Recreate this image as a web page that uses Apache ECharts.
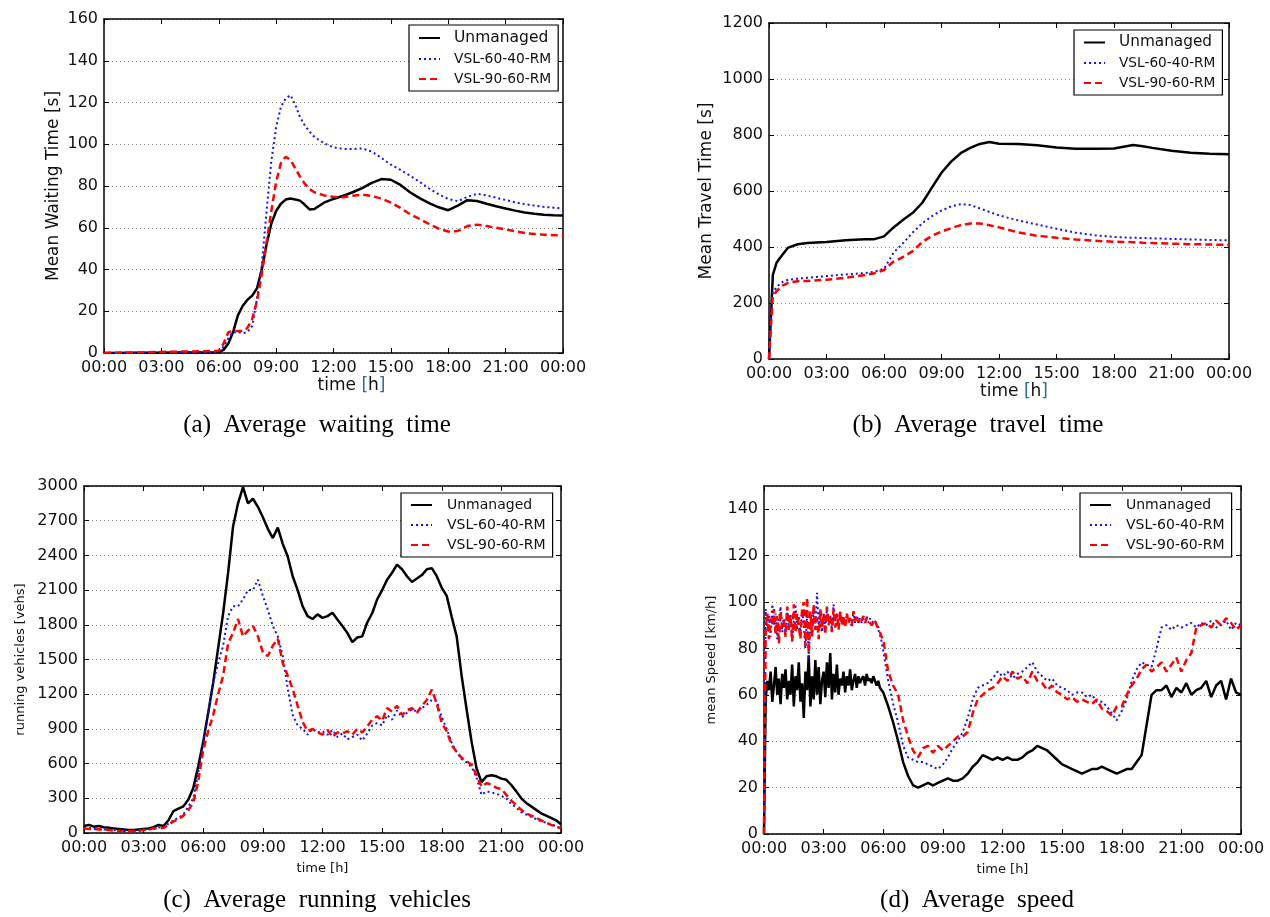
<!DOCTYPE html>
<html>
<head>
<meta charset="utf-8">
<title>VSL ramp metering results</title>
<script src="https://cdn.jsdelivr.net/npm/echarts@6/dist/echarts.min.js"></script>
<style>
  html, body { margin: 0; padding: 0; background: #fff; }
  #main { width: 1270px; height: 917px; }
</style>
</head>
<body>
<div id="main"></div>
<script>
const seriesNames = ["Unmanaged", "VSL-60-40-RM", "VSL-90-60-RM"];

// (a) mean waiting time [s]
const waitHours = [0, 6, 6.25, 6.5, 6.75, 7, 7.25, 7.5, 7.75, 8, 8.25, 8.5, 8.75, 9, 9.25, 9.5, 9.75, 10, 10.25, 10.5, 10.75, 11,
  11.5, 12, 12.5, 13, 13.5, 14, 14.5, 15, 15.5, 16, 16.5, 17, 17.5, 18, 18.5, 19, 19.5, 20, 20.5, 21, 21.5, 22, 22.5, 23, 23.5, 24];
const waitUnmanaged = [0, 0.3, 1.5, 4.5, 10, 18, 22.5, 25.5, 27.5, 31, 40, 52, 62, 68, 71.5, 73.5, 74, 73.5, 73, 71, 68.8, 69,
  72, 73.8, 75.3, 77, 79, 81.5, 83.3, 83, 80.5, 77, 74.2, 71.8, 69.8, 68.4, 70.6, 73.2, 72.8, 71.5, 70.3, 69.2, 68.2, 67.3, 66.7, 66.2, 66, 65.9];
const waitVsl6040 = [0, 0.5, 3, 7, 10, 10, 9.5, 10, 13, 26, 42, 68, 92, 108, 118, 122, 123.5, 119, 113, 109, 106, 103.5,
  100.5, 98.5, 97.8, 97.7, 98, 96.5, 93.5, 90.2, 87.7, 85, 82, 78.8, 76, 73.8, 72.7, 74.8, 76.3, 75.5, 74.4, 73.3, 72.2, 71.3, 70.6, 70, 69.6, 69.2];
const waitVsl9060 = [0, 1, 4.5, 10, 10.5, 10.5, 10.5, 12, 16.3, 25, 38, 53, 68, 82, 91, 94, 92.5, 88.5, 84.5, 81, 78.5, 77,
  75.5, 74.8, 74.6, 75.3, 75.9, 75.2, 74, 72, 69.5, 66.5, 64.2, 61.8, 59.6, 58.2, 58.5, 60.8, 61.5, 60.8, 60, 59.2, 58.3, 57.5, 57, 56.7, 56.4, 56.3];

// (b) mean travel time [s]
const travelHours = [0, 0.1, 0.2, 0.4, 0.7, 1, 1.5, 2, 3, 4, 5, 5.5, 6, 6.5, 7, 7.5, 8, 8.5, 9, 9.5, 10, 10.5, 11, 11.5, 12,
  13, 14, 15, 16, 17, 18, 18.5, 19, 19.5, 20, 21, 22, 23, 24];
const travelUnmanaged = [0, 150, 300, 345, 372, 398, 410, 414, 418, 424, 428, 428, 438, 470, 497, 522, 558, 612, 665, 705, 735, 754, 768, 775, 769,
  768, 763, 755, 751, 751, 752, 758, 764, 760, 754, 744, 737, 733, 731];
const travelVsl6040 = [0, 150, 236, 258, 275, 283, 287, 290, 296, 302, 307, 312, 322, 380, 414, 452, 485, 510, 530, 545, 553, 550, 538, 525, 513,
  495, 480, 465, 451, 442, 436, 434, 433, 432, 431, 429, 427, 425, 424];
const travelVsl9060 = [0, 120, 224, 243, 262, 272, 278, 279, 283, 290, 300, 306, 318, 348, 365, 385, 418, 440, 455, 467, 478, 484, 484, 478, 470,
  452, 440, 433, 427, 422, 419, 418, 417, 415, 414, 412, 410, 409, 407];

// (c) running vehicles [vehs], one value every quarter hour 00:00 .. 24:00
const quarterHours = Array.from({ length: 97 }, (_, i) => i / 4);
const runUnmanaged = [
  60, 70, 55, 60, 50, 45, 40, 35, 30, 25, 25, 30, 35, 40, 50, 70,
  60, 110, 190, 210, 230, 290, 390, 580, 790, 1040, 1300, 1600, 1900, 2250, 2650, 2850,
  2990, 2850, 2890, 2820, 2730, 2630, 2550, 2640, 2500, 2390, 2220, 2100, 1960, 1875, 1850, 1890,
  1860, 1875, 1905, 1845, 1790, 1730, 1650, 1690, 1700, 1820, 1900, 2020, 2100, 2190, 2250, 2320,
  2280, 2220, 2170, 2200, 2230, 2280, 2290, 2220, 2120, 2050, 1870, 1700, 1360, 1070, 790, 560,
  440, 490, 500, 490, 470, 460, 415, 360, 300, 260, 230, 200, 170, 150, 130, 110, 75];
const runVsl6040 = [
  40, 45, 35, 35, 30, 30, 25, 20, 15, 20, 15, 20, 25, 30, 35, 50,
  45, 80, 110, 130, 160, 230, 300, 520, 790, 1045, 1300, 1470, 1620, 1875, 1960, 1960,
  2020, 2100, 2100, 2190, 2050, 1930, 1790, 1700, 1530, 1250, 1020, 930, 900, 850, 900, 870,
  880, 850, 890, 830, 860, 810, 830, 850, 800, 860, 930, 950, 930, 1020, 980, 1060,
  1000, 1040, 1070, 1050, 1080, 1110, 1150, 1140, 1000, 900, 780, 700, 640, 610, 570, 480,
  330, 360, 350, 340, 320, 300, 250, 220, 180, 160, 140, 120, 100, 90, 75, 60, 40];
const runVsl9060 = [
  40, 35, 35, 30, 30, 25, 20, 20, 15, 15, 20, 20, 25, 30, 40, 40,
  45, 70, 100, 120, 150, 200, 260, 450, 720, 880, 1020, 1200, 1360, 1640, 1730, 1850,
  1700, 1750, 1790, 1700, 1560, 1530, 1620, 1680, 1470, 1360, 1245, 1100, 960, 880, 900, 870,
  850, 890, 830, 870, 860, 880, 850, 900, 870, 920, 980, 1010, 970, 1080, 1050, 1100,
  1020, 1060, 1080, 1040, 1100, 1150, 1240, 1120, 950, 880, 760, 700, 650, 620, 590, 500,
  400, 430, 420, 390, 380, 330, 280, 240, 200, 170, 150, 130, 110, 90, 70, 55, 40];

// (d) mean speed [km/h]: every 5 min from 00:00 to 05:55, then every quarter hour 06:00 .. 24:00
const speedHours = Array.from({ length: 72 }, (_, i) => i / 12).concat(Array.from({ length: 73 }, (_, i) => 6 + i / 4));
const speedUnmanaged = [
  0, 58, 66, 62, 70, 57, 64, 72, 60, 67, 56, 69,
  63, 71, 58, 66, 60, 73, 55, 68, 62, 74, 57, 65,
  50, 70, 62, 77, 55, 68, 58, 75, 60, 72, 56, 66,
  70, 59, 74, 63, 78, 58, 69, 61, 73, 60, 67, 64,
  70, 61, 68, 64, 71, 62, 66, 69, 63, 68, 65, 67,
  68, 64, 69, 66, 67, 65, 68, 66, 64, 66, 63, 62,
  61, 55, 48, 40, 31, 25, 21, 20,
  21, 22, 21, 22, 23, 24, 23, 23, 24, 26, 29, 31, 34, 33, 32, 33,
  32, 33, 32, 32, 33, 35, 36, 38, 37, 36, 34, 32, 30, 29, 28, 27,
  26, 27, 28, 28, 29, 28, 27, 26, 27, 28, 28, 31, 34, 47, 60, 62,
  62, 64, 59, 63, 61, 65, 60, 62, 63, 66, 59, 64, 66, 58, 67, 61, 60];
const speedVsl6040 = [
  0, 97, 88, 94, 85, 99, 90, 95, 84, 92, 98, 87,
  93, 86, 97, 89, 95, 83, 92, 99, 88, 94, 86, 96,
  90, 80, 95, 75, 92, 86, 98, 88, 104, 90, 96, 87,
  95, 89, 97, 91, 94, 88, 99, 92, 95, 90, 96, 91,
  94, 90, 95, 92, 93, 89, 96, 91, 94, 92, 93, 91,
  93, 92, 94, 91, 93, 92, 91, 92, 90, 88, 86, 83,
  79, 66, 56, 48, 38, 33, 32, 31,
  31, 30, 29, 28, 30, 33, 37, 40, 44, 50, 58, 63, 64, 65, 67, 70,
  68, 70, 67, 69, 70, 72, 74, 70, 68, 66, 67, 64, 63, 62, 60, 61,
  61, 59, 60, 57, 57, 55, 52, 49, 53, 58, 66, 71, 74, 73, 72, 80,
  89, 90, 88, 90, 89, 90, 91, 89, 91, 90, 92, 89, 90, 92, 88, 91, 90];
const speedVsl9060 = [
  0, 88, 95, 84, 93, 90, 97, 86, 94, 82, 96, 89,
  92, 85, 98, 88, 94, 83, 99, 87, 95, 90, 84, 97,
  100, 81, 102, 78, 96, 85, 99, 88, 93, 84, 97, 89,
  95, 86, 98, 90, 94, 87, 97, 89, 95, 88, 96, 90,
  94, 89, 95, 91, 93, 90, 96, 92, 94, 91, 93, 92,
  94, 91, 93, 92, 92, 90, 91, 92, 90, 89, 87, 85,
  84, 70, 64, 60, 49, 42, 36, 33,
  37, 38, 35, 38, 36, 38, 40, 42, 42, 44, 52, 58, 60, 62, 63, 65,
  68, 66, 70, 67, 68, 65, 70, 66, 65, 62, 64, 61, 60, 58, 59, 57,
  58, 57, 56, 58, 54, 53, 51, 55, 55, 60, 64, 67, 71, 73, 70, 72,
  74, 70, 73, 76, 70, 75, 78, 89, 90, 91, 89, 92, 90, 93, 91, 88, 90];

const FONT = "DejaVu Sans";

function pair(hours, values) {
  return values.map((v, i) => [hours[i], v]);
}

const panels = [
  {
    box: { left: 104, top: 19, width: 459, height: 334 }, yMax: 160, yStep: 20,
    yName: "Mean Waiting Time [s]", yGap: 42, yNameSize: 17, xName: "time {br|[}h{br|]}", xGap: 22, xNameSize: 17, xShift: 36,
    legend: { left: 409, top: 25 }, bigSize: 15.5, smallSize: 13.8, textPad: 9, pad: [5, 7, 5, 9],
    caption: "(a)  Average  waiting  time", cx: 317, cy: 425,
    data: [pair(waitHours, waitUnmanaged), pair(waitHours, waitVsl6040), pair(waitHours, waitVsl9060)]
  },
  {
    box: { left: 769, top: 23, width: 460, height: 336 }, yMax: 1200, yStep: 200,
    yName: "Mean Travel Time [s]", yGap: 54, yNameSize: 17, xName: "time {br|[}h{br|]}", xGap: 22, xNameSize: 17, xShift: 30,
    legend: { left: 1074, top: 30 }, bigSize: 15.3, smallSize: 13.7, textPad: 9, pad: [5, 7, 5, 9],
    caption: "(b)  Average  travel  time", cx: 978, cy: 425,
    data: [pair(travelHours, travelUnmanaged), pair(travelHours, travelVsl6040), pair(travelHours, travelVsl9060)]
  },
  {
    box: { left: 84, top: 486, width: 477, height: 347 }, yMax: 3000, yStep: 300,
    yName: "running vehicles [vehs]", yGap: 57, yNameSize: 13, xName: "time [h]", xGap: 29, xNameSize: 13, xShift: 0,
    legend: { left: 401, top: 493 }, bigSize: 14, smallSize: 14, textPad: 10, pad: [5, 7, 5, 9],
    caption: "(c)  Average  running  vehicles", cx: 317, cy: 900,
    data: [pair(quarterHours, runUnmanaged), pair(quarterHours, runVsl6040), pair(quarterHours, runVsl9060)]
  },
  {
    box: { left: 764, top: 486, width: 477, height: 348 }, yMax: 150, yStep: 20,
    yName: "mean Speed [km/h]", yGap: 46, yNameSize: 13, xName: "time [h]", xGap: 29, xNameSize: 13, xShift: 0,
    legend: { left: 1080, top: 493 }, bigSize: 14, smallSize: 14, textPad: 10, pad: [5, 7, 5, 9],
    caption: "(d)  Average  speed", cx: 977, cy: 900,
    data: [pair(speedHours, speedUnmanaged), pair(speedHours, speedVsl6040), pair(speedHours, speedVsl9060)]
  }
];

const lineLook = [
  { color: "#000000", type: "solid", width: 2.5 },
  { color: "#1010ff", type: [2, 3], width: 2 },
  { color: "#ff0000", type: [7, 4], width: 2.5 }
];

const hourLabel = v => String(v % 24).padStart(2, "0") + ":00";

const grid = [], xAxis = [], yAxis = [], series = [], legend = [], graphic = [];

panels.forEach((p, i) => {
  grid.push(Object.assign({ containLabel: false }, p.box));
  const tick = { show: true, inside: true, length: 5, lineStyle: { color: "#000", width: 1 } };
  const line = { show: true, onZero: false, lineStyle: { color: "#000", width: 1.5 } };
  // bottom (labelled) and top (ticks only) time axes
  xAxis.push({
    type: "value", gridIndex: i, min: 0, max: 24, interval: 3, position: "bottom",
    axisLine: line, axisTick: tick, splitLine: { show: false },
    axisLabel: { formatter: hourLabel, fontFamily: FONT, fontSize: 16, color: "#111", margin: 7 },
    name: p.xName, nameLocation: "middle", nameGap: p.xGap,
    nameTextStyle: {
      fontFamily: FONT, fontSize: p.xNameSize, color: "#111", padding: [0, 0, 0, p.xShift],
      rich: { br: { color: "#2c6c8c", fontSize: p.xNameSize, fontFamily: FONT } }
    }
  });
  xAxis.push({
    type: "value", gridIndex: i, min: 0, max: 24, interval: 3, position: "top",
    axisLine: line, axisTick: tick, axisLabel: { show: false }, splitLine: { show: false }
  });
  yAxis.push({
    type: "value", gridIndex: i, min: 0, max: p.yMax, interval: p.yStep, position: "left",
    axisLine: line, axisTick: tick,
    splitLine: { show: true, lineStyle: { color: "#888", type: [1, 3], width: 1 } },
    axisLabel: { formatter: v => String(v), fontFamily: FONT, fontSize: 16, color: "#111", margin: 6, showMaxLabel: p.yMax % p.yStep === 0 },
    name: p.yName, nameLocation: "middle", nameGap: p.yGap,
    nameTextStyle: { fontFamily: FONT, fontSize: p.yNameSize, color: "#111" }
  });
  yAxis.push({
    type: "value", gridIndex: i, min: 0, max: p.yMax, interval: p.yStep, position: "right",
    axisLine: line, axisTick: tick, axisLabel: { show: false }, splitLine: { show: false }
  });
  p.data.forEach((d, k) => {
    series.push({
      name: seriesNames[k], type: "line", xAxisIndex: i * 2, yAxisIndex: i * 2,
      data: d, symbol: "none", showSymbol: false, clip: true,
      lineStyle: lineLook[k], itemStyle: { color: lineLook[k].color },
      z: 2 + k
    });
  });
  legend.push({
    data: seriesNames, orient: "vertical", left: p.legend.left, top: p.legend.top,
    backgroundColor: "#fff", borderColor: "#000", borderWidth: 1.2,
    padding: p.pad, itemGap: 6, itemWidth: 21, itemHeight: 16,
    itemStyle: { opacity: 0 },
    formatter: name => name === "Unmanaged" ? "{u|" + name + "}" : "{v|" + name + "}",
    textStyle: {
      fontFamily: FONT, color: "#111", padding: [0, 0, 0, p.textPad],
      rich: { u: { fontSize: p.bigSize, fontFamily: FONT }, v: { fontSize: p.smallSize, fontFamily: FONT } }
    },
    selectedMode: false
  });
  graphic.push({
    type: "text", x: p.cx, y: p.cy,
    style: { text: p.caption, textAlign: "center", textVerticalAlign: "middle", font: "25px 'Liberation Serif', 'DejaVu Serif', serif", fill: "#000" }
  });
});

const myChart = echarts.init(document.getElementById("main"));
const option = {
  backgroundColor: "#fff",
  animation: false,
  textStyle: { fontFamily: FONT },
  grid, xAxis, yAxis, series, legend, graphic
};
option && myChart.setOption(option);
</script>
</body>
</html>
